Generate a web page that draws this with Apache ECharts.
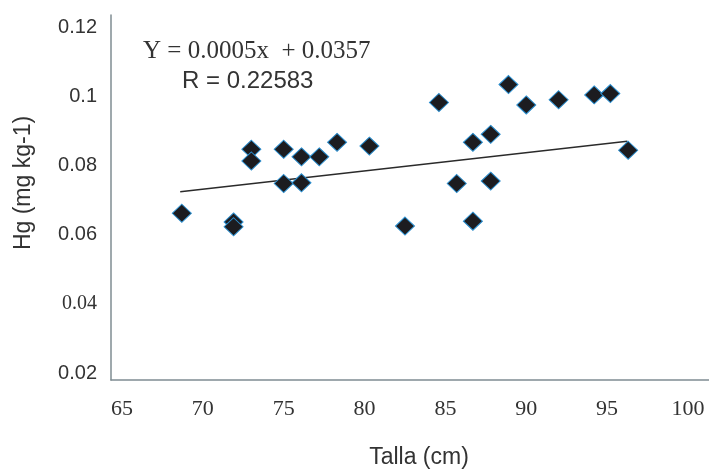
<!DOCTYPE html>
<html>
<head>
<meta charset="utf-8">
<script src="https://cdn.jsdelivr.net/npm/echarts@6/dist/echarts.min.js"></script>
<style>
html,body{margin:0;padding:0;background:#fff;}
#chart{width:709px;height:470px;}
</style>
</head>
<body>
<div id="chart"></div>
<script>
// Talla (cm) values
var tallaCm = [68.7, 71.9, 71.9, 73.0, 73.0, 75.0, 75.0, 76.1, 76.1, 77.2, 78.3, 80.3,
               82.5, 84.6, 85.7, 86.7, 86.7, 87.8, 87.8, 88.9, 90.0, 92.0, 94.2, 95.2, 96.3];
// Hg (mg kg-1) values
var hgValues = [0.0662, 0.0637, 0.0623, 0.0847, 0.0813, 0.0847, 0.0748, 0.0825, 0.0750, 0.0825, 0.0867, 0.0856,
                0.0625, 0.0982, 0.0748, 0.0867, 0.0639, 0.0890, 0.0755, 0.1034, 0.0975, 0.0990, 0.1004, 0.1008, 0.0844];
// trend line end points
var trendX = [68.6, 96.25];
var trendY = [0.0724, 0.0870];
// tick labels
var xTicks = [65, 70, 75, 80, 85, 90, 95, 100];
var yTicks = [0.02, 0.04, 0.06, 0.08, 0.1, 0.12];

var points = tallaCm.map(function (x, i) { return [x, hgValues[i]]; });
var trend = trendX.map(function (x, i) { return [x, trendY[i]]; });

var chart = echarts.init(document.getElementById('chart'), null, {renderer: 'canvas'});
chart.setOption({
  animation: false,
  backgroundColor: '#ffffff',
  grid: {left: 111, right: 0, top: 15, bottom: 90, containLabel: false},
  xAxis: {
    type: 'value',
    min: 64.32,
    max: 101.3,
    axisLine: {show: true, lineStyle: {color: '#7f8c92', width: 1.5}},
    axisTick: {show: false},
    splitLine: {show: false},
    axisLabel: {
      customValues: xTicks,
      margin: 18,
      fontFamily: 'Liberation Serif',
      fontSize: 22,
      color: '#333333'
    }
  },
  yAxis: {
    type: 'value',
    min: 0.018,
    max: 0.1235,
    axisLine: {show: true, lineStyle: {color: '#7f8c92', width: 1.5}},
    axisTick: {show: false},
    splitLine: {show: false},
    axisLabel: {
      customValues: yTicks,
      margin: 14,
      fontFamily: 'Liberation Sans',
      fontSize: 20,
      color: '#333333',
      formatter: function (v) {
        var s = String(+v.toFixed(2));
        if (Math.abs(v - 0.04) < 1e-6) return '{s|' + s + '}';
        return s;
      },
      rich: {
        s: {fontFamily: 'Liberation Serif', fontSize: 20, color: '#333333'}
      }
    }
  },
  graphic: [
    {type: 'text', left: 143, top: 39, style: {text: 'Y = 0.0005x  + 0.0357', font: '25px "Liberation Serif"', fill: '#333'}},
    {type: 'text', left: 182, top: 69, style: {text: 'R = 0.22583', font: '24px "Liberation Sans"', fill: '#333'}},
    {type: 'text', x: 24, y: 183, rotation: Math.PI / 2, style: {text: 'Hg (mg kg-1)', font: '23px "Liberation Sans"', fill: '#333', align: 'center', verticalAlign: 'middle'}},
    {type: 'text', x: 419, y: 458, style: {text: 'Talla (cm)', font: '23px "Liberation Sans"', fill: '#333', align: 'center', verticalAlign: 'middle'}}
  ],
  series: [
    {
      type: 'line',
      data: trend,
      symbol: 'none',
      lineStyle: {color: '#2a2a2a', width: 1.5},
      z: 1
    },
    {
      type: 'scatter',
      data: points,
      symbol: 'diamond',
      symbolSize: [19, 18],
      itemStyle: {color: '#1c1c20', borderColor: '#2b8fd0', borderWidth: 1, opacity: 1},
      z: 2
    }
  ]
});
</script>
</body>
</html>
